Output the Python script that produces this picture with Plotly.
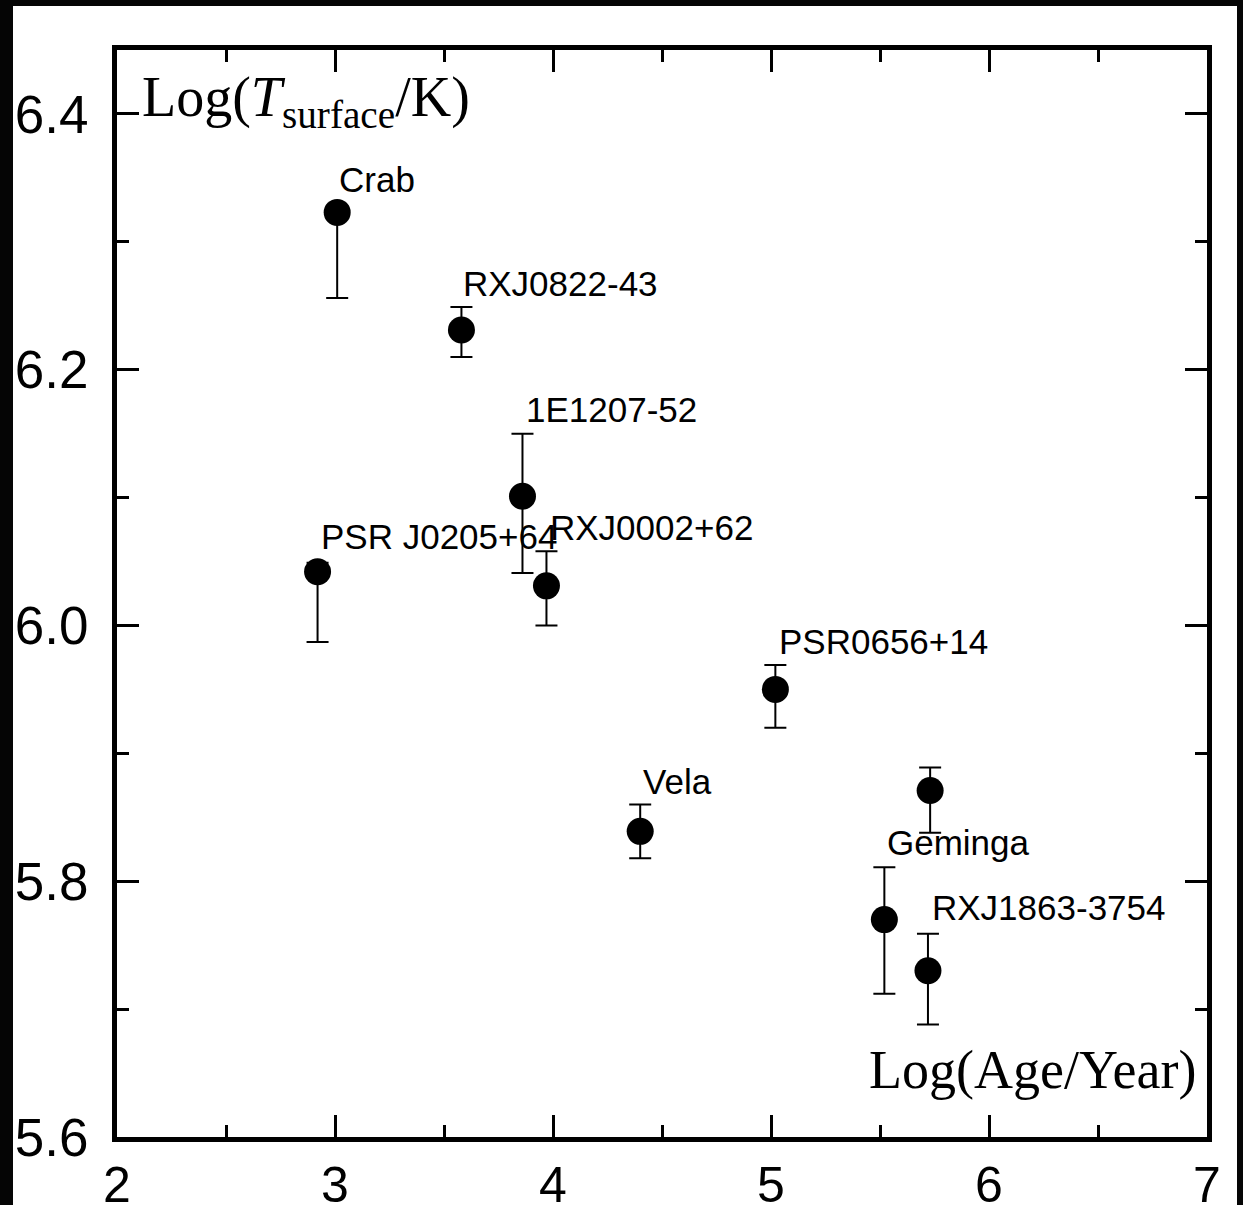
import plotly.graph_objects as go

# ---- data ----
names = ["Crab", "RXJ0822-43", "1E1207-52", "PSR J0205+64", "RXJ0002+62",
         "PSR0656+14", "Vela", "", "Geminga", "RXJ1863-3754"]
log_age = [3.01, 3.58, 3.86, 2.92, 3.97, 5.02, 4.40, 5.73, 5.52, 5.72]
log_temp = [6.323, 6.231, 6.101, 6.042, 6.031, 5.950, 5.839, 5.871, 5.770, 5.730]
err_plus = [0.0, 0.018, 0.049, 0.007, 0.027, 0.019, 0.021, 0.018, 0.041, 0.029]
err_minus = [0.067, 0.021, 0.060, 0.055, 0.031, 0.030, 0.021, 0.033, 0.058, 0.042]

# label offsets in pixels (dx, dy) relative to each point
label_dx = [0, 0, 2, 1, 2, 2, 1, 0, 1, 2]
label_dy = [33, 47, 87, 35, 58, 48, 50, 0, 77, 63]

x_ticks = [2, 3, 4, 5, 6, 7]
y_ticks = [5.6, 5.8, 6.0, 6.2, 6.4]
y_tick_text = ["5.6", "5.8", "6.0", "6.2", "6.4"]

fig = go.Figure()

fig.add_trace(go.Scatter(
    x=log_age, y=log_temp, mode="markers",
    marker=dict(color="black", size=27),
    error_y=dict(type="data", symmetric=False, array=err_plus, arrayminus=err_minus,
                 color="black", thickness=2, width=11),
    showlegend=False,
))

annotations = []
for n, xa, ya, dx, dy in zip(names, log_age, log_temp, label_dx, label_dy):
    if not n:
        continue
    annotations.append(dict(
        x=xa, y=ya, xref="x", yref="y", text=n, showarrow=False,
        xanchor="left", yanchor="middle", xshift=dx, yshift=dy,
        font=dict(family="Liberation Sans, Arial, sans-serif", size=35, color="black"),
    ))

annotations.append(dict(
    x=0.021, y=0.953, xref="paper", yref="paper", showarrow=False,
    text="Log(<i>T</i><sub>surface</sub>/K)", xanchor="left", yanchor="middle",
    font=dict(family="Liberation Serif, Times New Roman, serif", size=56, color="black"),
))
annotations.append(dict(
    x=0.992, y=0.062, xref="paper", yref="paper", showarrow=False,
    text="Log(Age/Year)", xanchor="right", yanchor="middle",
    font=dict(family="Liberation Serif, Times New Roman, serif", size=54, color="black"),
))

axis_common = dict(
    showline=True, linecolor="black", linewidth=5, mirror="allticks",
    ticks="inside", ticklen=22, tickwidth=3, tickcolor="black",
    showgrid=False, zeroline=False, automargin=False,
)

fig.update_xaxes(range=[2, 7], tickvals=x_ticks,
                 minor=dict(dtick=0.5, ticks="inside", ticklen=12, tickwidth=3,
                            tickcolor="black", showgrid=False),
                 tickfont=dict(family="Liberation Sans, Arial, sans-serif", size=50, color="black"),
                 ticklabelstandoff=0, **axis_common)
fig.update_yaxes(range=[5.6, 6.45], tickvals=y_ticks, ticktext=y_tick_text,
                 minor=dict(dtick=0.1, ticks="inside", ticklen=12, tickwidth=3,
                            tickcolor="black", showgrid=False),
                 tickfont=dict(family="Liberation Sans, Arial, sans-serif", size=53, color="black"),
                 ticklabelstandoff=13, **axis_common)

fig.update_layout(
    width=1243, height=1205,
    margin=dict(l=117, r=36, t=50, b=68, autoexpand=False),
    paper_bgcolor="#050505", plot_bgcolor="white",
    annotations=annotations,
    shapes=[dict(type="rect", xref="paper", yref="paper", layer="below",
                 x0=-104 / 1090, x1=1 + 30 / 1090, y0=-68 / 1087, y1=1 + 44 / 1087,
                 fillcolor="white", line=dict(width=0))],
)

fig.write_html(
    "out.html",
    config={"displayModeBar": False},
    post_script="document.body.style.margin='0';document.body.style.background='#050505';"
                "document.body.style.overflow='hidden';",
)
